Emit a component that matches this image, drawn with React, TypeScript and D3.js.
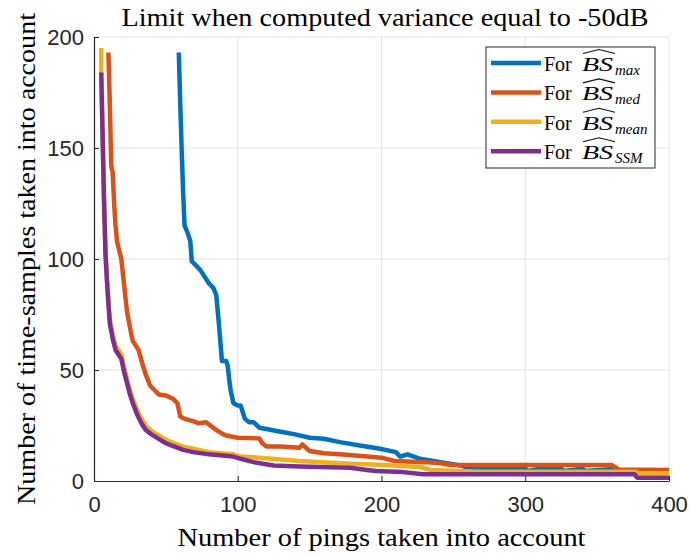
import React, { useEffect, useRef } from "react";
import * as d3 from "d3";

// --- Data (pings, time-samples)
const maxPings = [59, 60, 61, 62, 63, 65, 67, 68, 71, 74, 77, 80, 83, 85, 86, 87, 88, 89, 92, 93, 94, 95, 96, 97, 100, 102, 103, 105, 108, 111, 115, 120, 127, 140, 150, 160, 171, 185, 199, 210, 213, 218, 227, 241, 255, 262, 300, 302, 310, 325, 327, 340, 342, 363, 365, 400];
const maxSamples = [193, 170, 149, 130, 115, 112, 108, 99, 97, 95, 92, 89, 87, 84, 77, 70, 62, 54, 54, 52, 46, 41, 38, 35, 34, 34, 32, 28, 26.5, 26.5, 24, 23.4, 22.5, 21, 19.5, 19, 17.5, 16, 14.5, 13, 11, 12, 10, 8.5, 7, 5.5, 5.5, 4.5, 5.5, 5.5, 4.5, 5.5, 4.5, 5.5, 4, 4];

const medPings = [10, 11, 12, 13, 14, 15, 16, 19, 21, 23, 26, 27, 31, 34, 36, 39, 42, 45, 50, 55, 58, 60, 63, 69, 73, 78, 85, 90, 92, 100, 115, 117, 120, 130, 143, 145, 150, 160, 171, 190, 200, 209, 230, 241, 248, 360, 365, 400];
const medSamples = [193, 170, 142, 139, 125, 115, 108, 100, 88, 76, 66, 63, 59, 52, 48, 43, 41, 39, 38.5, 37, 35, 29, 28, 27, 26, 26.5, 23, 21, 20.5, 19.5, 19.2, 17, 15.5, 15.5, 15, 16.5, 13.5, 12.5, 12, 11, 10.5, 9, 8.5, 8, 7.2, 7.2, 5.2, 5];

const meanPings = [5, 5, 6, 7, 8, 9, 10, 11, 13, 15, 17, 19, 21, 23, 25, 27, 30, 33, 36, 40, 45, 50, 56, 62, 69, 80, 97, 102, 115, 143, 171, 202, 227, 234, 268, 377, 378, 400];
const meanSamples = [195, 186, 156, 127, 104, 92, 82, 73, 66, 61, 59, 57, 51, 46, 41, 37, 32, 28, 25, 22.5, 20.5, 18.5, 17, 15.5, 14.5, 13, 12, 11, 10.5, 9, 8, 7.2, 6.3, 5, 4.2, 4.2, 3.5, 3.5];

const ssmPings = [5, 6, 7, 8, 9, 10, 11, 13, 15, 17, 19, 21, 23, 25, 27, 30, 33, 36, 40, 45, 50, 56, 62, 69, 80, 97, 102, 111, 125, 143, 178, 190, 196, 215, 229, 376, 378, 400];
const ssmSamples = [184, 155, 125, 102, 90, 80, 71, 64, 59, 57, 55, 49, 44, 39, 35, 30, 26, 23, 21, 19, 17, 15.5, 14, 13, 12, 11, 10, 8.5, 7, 6.5, 6, 5, 4.5, 4, 3, 3, 1.5, 1.5];

const xTicks = [0, 100, 200, 300, 400];
const yTicks = [0, 50, 100, 150, 200];
const legendSubs = ["max", "med", "mean", "SSM"];
const colors = ["#0072BD", "#D95319", "#EDB120", "#7E2F8E"];

const App: React.FC = () => {
  const ref = useRef<SVGSVGElement | null>(null);

  useEffect(() => {
    if (!ref.current) return;
    const width = 689;
    const height = 556;
    const margin = { top: 37, right: 20, bottom: 75, left: 94 };
    const innerW = width - margin.left - margin.right;
    const innerH = height - margin.top - margin.bottom;

    const root = d3.select(ref.current);
    root.selectAll("*").remove();
    root.attr("width", width).attr("height", height);

    root.append("rect").attr("width", width).attr("height", height).attr("fill", "white");

    const g = root.append("g").attr("transform", `translate(${margin.left},${margin.top})`);

    const x = d3.scaleLinear().domain([0, 400]).range([0, innerW]);
    const y = d3.scaleLinear().domain([0, 200]).range([innerH, 0]);

    // Grid
    g.append("g")
      .selectAll("line")
      .data(xTicks.slice(1))
      .join("line")
      .attr("x1", (d) => x(d))
      .attr("x2", (d) => x(d))
      .attr("y1", 0)
      .attr("y2", innerH)
      .attr("stroke", "#e3e3e3")
      .attr("stroke-width", 1);
    g.append("g")
      .selectAll("line")
      .data(yTicks.slice(1))
      .join("line")
      .attr("x1", 0)
      .attr("x2", innerW)
      .attr("y1", (d) => y(d))
      .attr("y2", (d) => y(d))
      .attr("stroke", "#e3e3e3")
      .attr("stroke-width", 1);

    // Axes
    const xAxis = g
      .append("g")
      .attr("transform", `translate(0,${innerH})`)
      .call(d3.axisBottom(x).tickValues(xTicks).tickSizeInner(-5).tickSizeOuter(0).tickPadding(12));
    const yAxis = g
      .append("g")
      .call(d3.axisLeft(y).tickValues(yTicks).tickSizeInner(-5).tickSizeOuter(0).tickPadding(10));
    [xAxis, yAxis].forEach((a) => {
      a.select(".domain").attr("stroke", "#262626").attr("stroke-width", 1.2);
      a.selectAll(".tick line").attr("stroke", "#262626");
      a.selectAll(".tick text")
        .attr("fill", "#262626")
        .style("font-family", "'Liberation Sans', Arial, sans-serif")
        .style("font-size", "22px");
    });
    xAxis.selectAll(".tick text").attr("dy", "0.85em");

    // Lines
    const series = [
      { px: maxPings, py: maxSamples },
      { px: medPings, py: medSamples },
      { px: meanPings, py: meanSamples },
      { px: ssmPings, py: ssmSamples },
    ];
    const line = d3
      .line<[number, number]>()
      .x((d) => x(d[0]))
      .y((d) => y(d[1]));
    series.forEach((s, i) => {
      const pts = s.px.map((p, k) => [p, s.py[k]] as [number, number]);
      g.append("path")
        .attr("d", line(pts))
        .attr("fill", "none")
        .attr("stroke", colors[i])
        .attr("stroke-width", 4.5)
        .attr("stroke-linejoin", "round");
    });

    const serif = "'Liberation Serif', 'DejaVu Serif', serif";

    // Title & labels
    root.append("text")
      .attr("x", 385)
      .attr("y", 26)
      .attr("text-anchor", "middle")
      .attr("textLength", 527)
      .attr("lengthAdjust", "spacingAndGlyphs")
      .style("font-family", serif)
      .style("font-size", "26px")
      .text("Limit when computed variance equal to -50dB");
    root.append("text")
      .attr("x", margin.left + innerW / 2)
      .attr("y", 546)
      .attr("text-anchor", "middle")
      .attr("textLength", 408)
      .attr("lengthAdjust", "spacingAndGlyphs")
      .style("font-family", serif)
      .style("font-size", "26px")
      .text("Number of pings taken into account");
    root.append("text")
      .attr("transform", `translate(35,259) rotate(-90)`)
      .attr("text-anchor", "middle")
      .attr("textLength", 492)
      .attr("lengthAdjust", "spacingAndGlyphs")
      .style("font-family", serif)
      .style("font-size", "26px")
      .text("Number of time-samples taken into account");

    // Legend
    const lg = root.append("g").attr("transform", "translate(486,47)");
    lg.append("rect")
      .attr("width", 169)
      .attr("height", 121)
      .attr("fill", "white")
      .attr("stroke", "#262626")
      .attr("stroke-width", 1);
    legendSubs.forEach((sub, i) => {
      const cy = 16 + i * 29.4;
      lg.append("line")
        .attr("x1", 5)
        .attr("x2", 55)
        .attr("y1", cy)
        .attr("y2", cy)
        .attr("stroke", colors[i])
        .attr("stroke-width", 4.5);
      lg.append("text")
        .attr("x", 58)
        .attr("y", cy + 8)
        .style("font-family", serif)
        .style("font-size", "20px")
        .text("For");
      lg.append("text")
        .attr("x", 96)
        .attr("y", cy + 8)
        .attr("textLength", 31)
        .attr("lengthAdjust", "spacingAndGlyphs")
        .style("font-family", serif)
        .style("font-style", "italic")
        .style("font-size", "19px")
        .text("BS");
      lg.append("text")
        .attr("x", 129)
        .attr("y", cy + 12)
        .style("font-family", serif)
        .style("font-style", "italic")
        .style("font-size", "15px")
        .text(sub);
      // wide hat over BS
      lg.append("path")
        .attr("d", `M${97},${cy - 9.5} L${113},${cy - 13.5} L${129},${cy - 9.5}`)
        .attr("fill", "none")
        .attr("stroke", "#111")
        .attr("stroke-width", 1.1);
    });

    return () => {
      d3.select(ref.current).selectAll("*").remove();
    };
  }, []);

  return <svg ref={ref} style={{ position: "absolute", left: 0, top: 0 }}></svg>;
};

export default App;
